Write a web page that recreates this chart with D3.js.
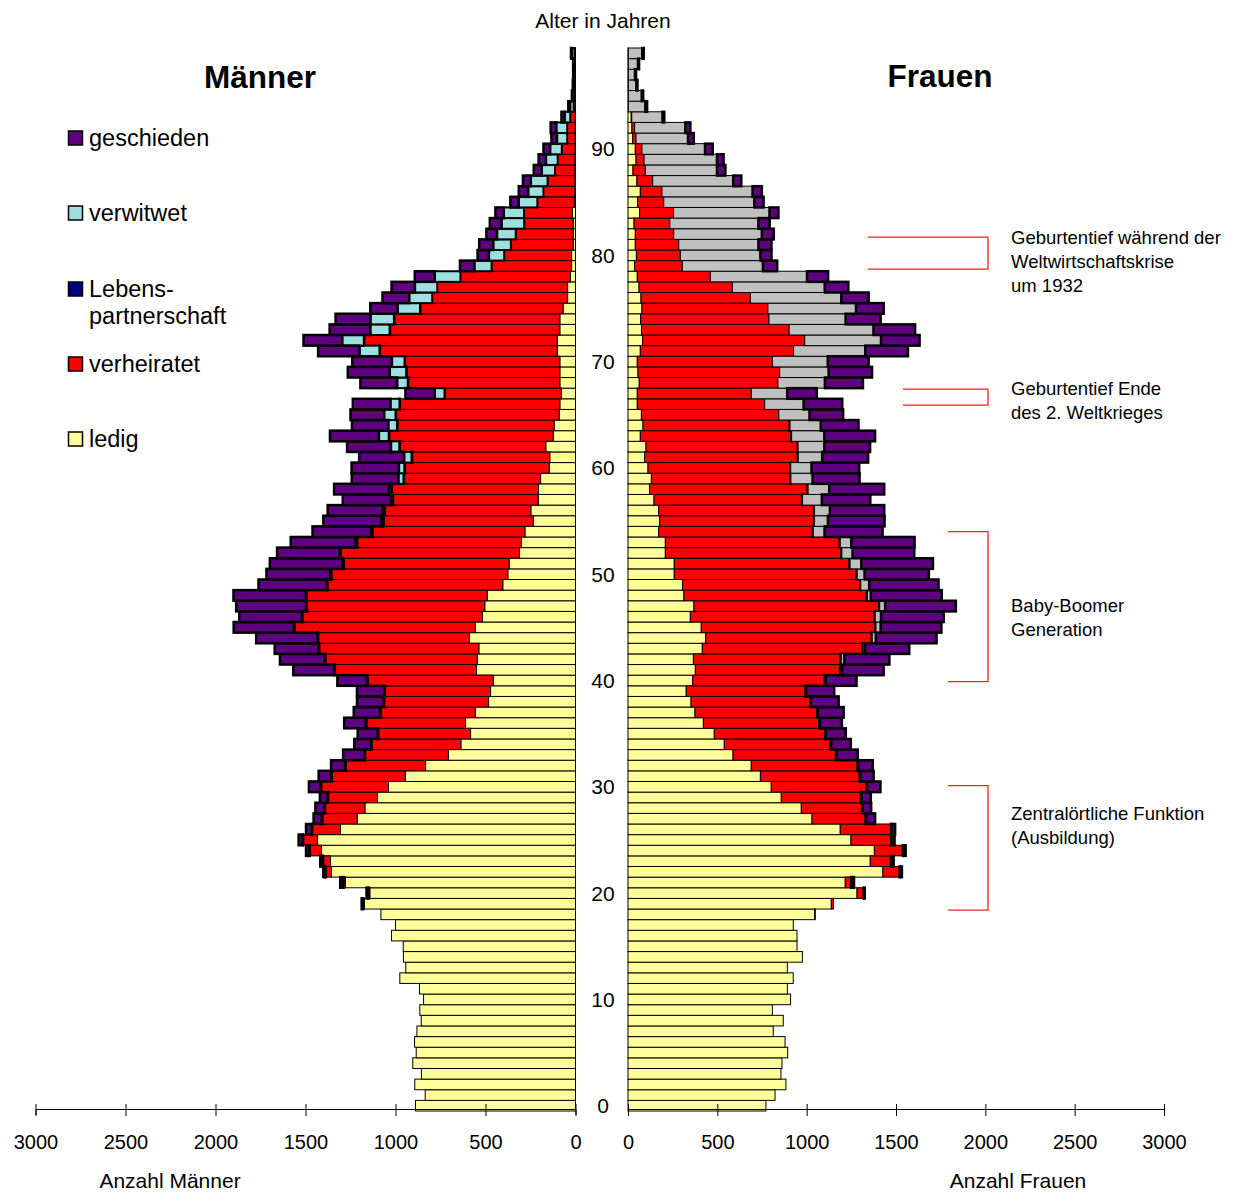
<!DOCTYPE html>
<html>
<head>
<meta charset="utf-8">
<script src="https://cdn.jsdelivr.net/npm/d3@7"></script>
<style>
body { margin: 0; background: #fff; }
text { font-family: Arial, "Liberation Sans", sans-serif; fill: #000; }
</style>
</head>
<body>
<svg id="chart" width="1234" height="1194"></svg>
<script>
// Alter 0..99
var ages = d3.range(0, 100);
var ageTicks = [0, 10, 20, 30, 40, 50, 60, 70, 80, 90];
var countTicks = [0, 500, 1000, 1500, 2000, 2500, 3000];

var maennerLedig = [
  889, 835, 893, 856, 904, 885, 894, 881, 857, 865,
  844, 867, 976, 943, 956, 957, 1022, 1000, 1081, 1174,
  1143, 1278, 1356, 1361, 1411, 1433, 1306, 1213, 1170, 1100,
  1039, 946, 833, 706, 637, 583, 611, 557, 483, 472,
  457, 550, 546, 537, 589, 557, 517, 504, 491, 404,
  376, 369, 311, 300, 281, 235, 248, 207, 206, 194,
  146, 143, 165, 124, 119, 91, 87, 78, 87, 87,
  87, 102, 102, 87, 87, 69, 44, 44, 28, 22,
  22, 13, 13, 13, 17, 5, 4, 3, 3, 3,
  2, 2, 2, 1, 0, 0, 0, 0, 0, 0];
var maennerVerheiratet = [
  0, 0, 0, 0, 0, 0, 0, 0, 0, 0,
  0, 0, 0, 0, 0, 0, 0, 0, 0, 5,
  5, 11, 31, 41, 65, 80, 157, 193, 222, 274,
  374, 409, 444, 463, 496, 513, 551, 526, 580, 587,
  698, 787, 843, 887, 841, 1004, 1000, 989, 1004, 974,
  980, 919, 993, 913, 846, 831, 811, 807, 815, 759,
  802, 765, 811, 911, 870, 907, 889, 648, 843, 852,
  861, 985, 1072, 944, 920, 793, 752, 724, 611, 444,
  374, 346, 319, 272, 269, 207, 174, 152, 111, 96,
  74, 44, 44, 28, 10, 5, 3, 3, 3, 5];
var maennerLebens = [
  0, 0, 0, 0, 0, 0, 0, 0, 0, 0,
  0, 0, 0, 0, 0, 0, 0, 0, 0, 3,
  3, 3, 3, 3, 3, 3, 3, 3, 3, 3,
  3, 3, 3, 3, 3, 3, 3, 3, 3, 3,
  3, 3, 3, 3, 3, 3, 3, 3, 3, 3,
  3, 3, 3, 3, 3, 3, 3, 3, 3, 3,
  3, 3, 3, 3, 3, 2, 2, 2, 2, 2,
  2, 2, 2, 2, 2, 2, 0, 0, 0, 0,
  0, 0, 0, 0, 0, 0, 0, 0, 0, 0,
  0, 0, 0, 0, 0, 0, 0, 0, 0, 0];
var maennerVerwitwet = [
  0, 0, 0, 0, 0, 0, 0, 0, 0, 0,
  0, 0, 0, 0, 0, 0, 0, 0, 0, 0,
  0, 0, 0, 0, 0, 0, 0, 0, 0, 0,
  0, 0, 0, 0, 0, 0, 0, 0, 0, 0,
  0, 0, 0, 0, 0, 0, 0, 0, 0, 0,
  3, 3, 3, 5, 5, 10, 8, 8, 12, 28,
  30, 41, 46, 54, 48, 63, 50, 54, 59, 91,
  70, 111, 120, 107, 130, 124, 128, 124, 143, 96,
  85, 98, 104, 126, 113, 104, 85, 93, 74, 65,
  65, 57, 61, 31, 20, 12, 10, 8, 8, 15];
var maennerGeschieden = [
  0, 0, 0, 0, 0, 0, 0, 0, 0, 0,
  0, 0, 0, 0, 0, 0, 0, 0, 0, 6,
  10, 15, 11, 13, 18, 22, 31, 46, 50, 43,
  65, 69, 78, 119, 93, 111, 120, 146, 148, 152,
  165, 228, 250, 244, 341, 335, 348, 389, 402, 380,
  355, 404, 348, 361, 326, 322, 307, 268, 305, 259,
  263, 250, 244, 272, 202, 187, 209, 163, 204, 233,
  220, 230, 215, 226, 194, 152, 148, 130, 111, 80,
  63, 78, 59, 65, 46, 46, 52, 44, 44, 41,
  37, 31, 31, 18, 10, 3, 2, 2, 2, 5];

var frauenLedig = [
  772, 823, 884, 856, 862, 894, 879, 813, 869, 808,
  910, 892, 925, 892, 976, 946, 946, 925, 1045, 1138,
  1282, 1216, 1427, 1356, 1379, 1248, 1188, 1030, 970, 858,
  802, 741, 690, 588, 539, 483, 422, 375, 353, 326,
  362, 377, 366, 416, 435, 410, 349, 369, 313, 306,
  259, 259, 209, 209, 172, 177, 172, 146, 121, 131,
  112, 93, 101, 69, 84, 75, 52, 52, 63, 56,
  52, 69, 82, 76, 71, 78, 73, 62, 52, 37,
  47, 41, 41, 34, 65, 54, 69, 50, 28, 45,
  41, 26, 22, 18, 2, 2, 2, 2, 2, 2];
var frauenVerheiratet = [
  0, 0, 0, 0, 0, 0, 0, 0, 0, 0,
  0, 0, 0, 0, 0, 0, 0, 0, 3, 12,
  37, 34, 93, 116, 160, 226, 284, 300, 340, 446,
  533, 556, 595, 576, 595, 621, 649, 685, 668, 668,
  739, 810, 825, 897, 929, 975, 1032, 1037, 1024, 994,
  1021, 981, 985, 976, 862, 864, 869, 828, 884, 778,
  797, 858, 849, 845, 821, 769, 713, 638, 776, 793,
  756, 858, 907, 826, 718, 705, 612, 522, 409, 267,
  246, 243, 215, 200, 190, 146, 121, 88, 69, 45,
  37, 19, 15, 3, 0, 0, 0, 0, 0, 0];
var frauenLebens = [
  0, 0, 0, 0, 0, 0, 0, 0, 0, 0,
  0, 0, 0, 0, 0, 0, 0, 0, 0, 0,
  3, 3, 3, 3, 3, 3, 3, 3, 3, 3,
  3, 3, 3, 3, 3, 3, 3, 3, 3, 3,
  3, 3, 3, 3, 3, 3, 3, 3, 3, 3,
  3, 3, 3, 3, 3, 3, 3, 3, 3, 3,
  2, 2, 2, 2, 2, 0, 0, 0, 0, 0,
  0, 0, 0, 0, 0, 0, 0, 0, 0, 0,
  0, 0, 0, 0, 0, 0, 0, 0, 0, 0,
  0, 0, 0, 0, 0, 0, 0, 0, 0, 0];
var frauenVerwitwet = [
  0, 0, 0, 0, 0, 0, 0, 0, 0, 0,
  0, 0, 0, 0, 0, 0, 0, 0, 0, 0,
  0, 0, 0, 0, 0, 0, 0, 0, 0, 0,
  0, 0, 0, 0, 0, 0, 0, 0, 0, 0,
  3, 8, 17, 10, 20, 26, 32, 30, 19, 47,
  41, 63, 60, 62, 63, 75, 86, 108, 118, 121,
  116, 134, 147, 183, 172, 172, 218, 201, 263, 274,
  310, 401, 427, 472, 429, 493, 509, 517, 541, 451,
  448, 446, 493, 496, 537, 507, 507, 451, 401, 408,
  353, 291, 284, 172, 95, 75, 45, 37, 54, 78];
var frauenGeschieden = [
  0, 0, 0, 0, 0, 0, 0, 0, 0, 0,
  0, 0, 0, 0, 0, 0, 0, 0, 0, 0,
  3, 12, 10, 12, 12, 15, 20, 50, 48, 52,
  75, 75, 82, 119, 110, 112, 123, 144, 155, 157,
  172, 233, 252, 248, 340, 340, 351, 396, 397, 388,
  360, 401, 345, 354, 325, 317, 304, 271, 308, 263,
  267, 257, 256, 284, 211, 188, 216, 166, 213, 243,
  229, 239, 216, 233, 196, 155, 153, 132, 118, 80,
  62, 73, 67, 63, 50, 52, 52, 45, 47, 37,
  43, 32, 28, 10, 10, 8, 6, 6, 6, 8];

var keys = ["ledig", "verheiratet", "lebens", "verwitwet", "geschieden"];
var legendLabels = [["geschieden"], ["verwitwet"], ["Lebens-", "partnerschaft"], ["verheiratet"], ["ledig"]];
var legendKeys = ["geschieden", "verwitwet", "lebens", "verheiratet", "ledig"];

// Klammern: Altersbereich (von/bis) und Höhe der ersten Textzeile (textAt)
var notes = [
  { from: 79.2, to: 82.2, textAt: 82.1, x0: 868, lines: ["Geburtentief während der", "Weltwirtschaftskrise", "um 1932"] },
  { from: 66.4, to: 67.9, textAt: 67.9, x0: 903, lines: ["Geburtentief Ende", "des 2. Weltkrieges"] },
  { from: 40.4, to: 54.5, textAt: 47.5, x0: 948, lines: ["Baby-Boomer", "Generation"] },
  { from: 18.9, to: 30.6, textAt: 27.9, x0: 948, lines: ["Zentralörtliche Funktion", "(Ausbildung)"] }
];

var fillM = { ledig: "#ffff99", verheiratet: "#ff0000", lebens: "#000080", verwitwet: "#9ee0e0", geschieden: "#5f0080" };
var fillF = { ledig: "#ffff99", verheiratet: "#ff0000", lebens: "#000080", verwitwet: "#c0c0c0", geschieden: "#5f0080" };
var strokeM = { ledig: 1, verheiratet: 1, lebens: 2.5, verwitwet: 2, geschieden: 2.5 };
var strokeF = { ledig: 1, verheiratet: 1, lebens: 2.5, verwitwet: 1, geschieden: 2.5 };

var svg = d3.select("#chart");

var xL = d3.scaleLinear().domain([0, 3000]).range([575.5, 35.5]);
var xR = d3.scaleLinear().domain([0, 3000]).range([628, 1164]);
var y = d3.scaleBand().domain(ages).range([1111, 48]).padding(0);
var yl = d3.scaleLinear().domain([0, 100]).range([1111, 48]);

function rows(l, v, p, w, g) {
  return ages.map(function (a, i) {
    return { age: a, ledig: l[i], verheiratet: v[i], lebens: p[i], verwitwet: w[i], geschieden: g[i] };
  });
}

var stack = d3.stack().keys(keys);
var seriesM = stack(rows(maennerLedig, maennerVerheiratet, maennerLebens, maennerVerwitwet, maennerGeschieden));
var seriesF = stack(rows(frauenLedig, frauenVerheiratet, frauenLebens, frauenVerwitwet, frauenGeschieden));

function drawSide(series, x, left, fills, strokes, cls) {
  var layer = svg.append("g").attr("class", cls)
    .selectAll("g").data(series).enter().append("g")
    .attr("fill", function (s) { return fills[s.key]; })
    .attr("stroke", "#000")
    .attr("stroke-width", function (s) { return strokes[s.key]; });
  layer.selectAll("rect")
    .data(function (s) { return s.filter(function (d) { return d[1] - d[0] > 0; }); })
    .enter().append("rect")
    .attr("x", function (d) { return left ? x(d[1]) : x(d[0]); })
    .attr("width", function (d) { return Math.abs(x(d[1]) - x(d[0])); })
    .attr("y", function (d) { return y(d.data.age); })
    .attr("height", y.bandwidth());
}

drawSide(seriesM, xL, true, fillM, strokeM, "maenner");
drawSide(seriesF, xR, false, fillF, strokeF, "frauen");

// Achsen
function drawAxis(x) {
  var g = svg.append("g")
    .attr("transform", "translate(0,1109)")
    .call(d3.axisBottom(x).tickValues(countTicks).tickSizeOuter(0).tickSize(6).tickFormat(d3.format("d")));
  g.select(".domain").attr("stroke", "#000");
  g.selectAll(".tick line").attr("y1", -5).attr("y2", 7).attr("stroke", "#000");
  g.selectAll(".tick text").attr("y", 40).attr("dy", 0)
    .style("font-size", "20px").style("font-family", "Arial, 'Liberation Sans', sans-serif").attr("fill", "#000");
}
drawAxis(xL);
drawAxis(xR);

// Altersbeschriftung
svg.append("g").selectAll("text").data(ageTicks).enter().append("text")
  .attr("x", 603)
  .attr("y", function (a) { return y(a) + y.bandwidth() / 2 + 7.5; })
  .attr("text-anchor", "middle")
  .style("font-size", "21px")
  .text(function (a) { return a; });

svg.append("text").attr("x", 603).attr("y", 28).attr("text-anchor", "middle")
  .style("font-size", "21px").text("Alter in Jahren");
svg.append("text").attr("x", 260).attr("y", 88).attr("text-anchor", "middle")
  .style("font-size", "31.5px").style("font-weight", "bold").text("Männer");
svg.append("text").attr("x", 940).attr("y", 87).attr("text-anchor", "middle")
  .style("font-size", "31.5px").style("font-weight", "bold").text("Frauen");
svg.append("text").attr("x", 170).attr("y", 1188).attr("text-anchor", "middle")
  .style("font-size", "21px").text("Anzahl Männer");
svg.append("text").attr("x", 1018).attr("y", 1188).attr("text-anchor", "middle")
  .style("font-size", "21px").text("Anzahl Frauen");

// Legende
var legendY = [138, 213, 289, 364, 439];
var legend = svg.append("g").selectAll("g").data(legendKeys).enter().append("g")
  .attr("transform", function (k, i) { return "translate(68," + legendY[i] + ")"; });
legend.append("rect")
  .attr("x", 0.5).attr("y", -7).attr("width", 14).attr("height", 14)
  .attr("fill", function (k) { return fillM[k]; })
  .attr("stroke", "#000").attr("stroke-width", 1.5);
legend.each(function (k, i) {
  d3.select(this).selectAll("text").data(legendLabels[i]).enter().append("text")
    .attr("x", 21)
    .attr("y", function (t, j) { return 8 + j * 27; })
    .style("font-size", "23.5px")
    .text(function (t) { return t; });
});

// Anmerkungen
var ann = svg.append("g").selectAll("g").data(notes).enter().append("g");
ann.append("path")
  .attr("fill", "none").attr("stroke", "#ff2020").attr("stroke-width", 1.3)
  .attr("d", function (n) {
    var y0 = yl(n.to), y1 = yl(n.from);
    return "M" + n.x0 + "," + y0 + "H988V" + y1 + "H" + n.x0;
  });
ann.each(function (n) {
  var top = yl(n.textAt);
  d3.select(this).selectAll("text").data(n.lines).enter().append("text")
    .attr("x", 1011)
    .attr("y", function (t, j) { return top + j * 24 + 6; })
    .style("font-size", "18.5px")
    .text(function (t) { return t; });
});
</script>
</body>
</html>
